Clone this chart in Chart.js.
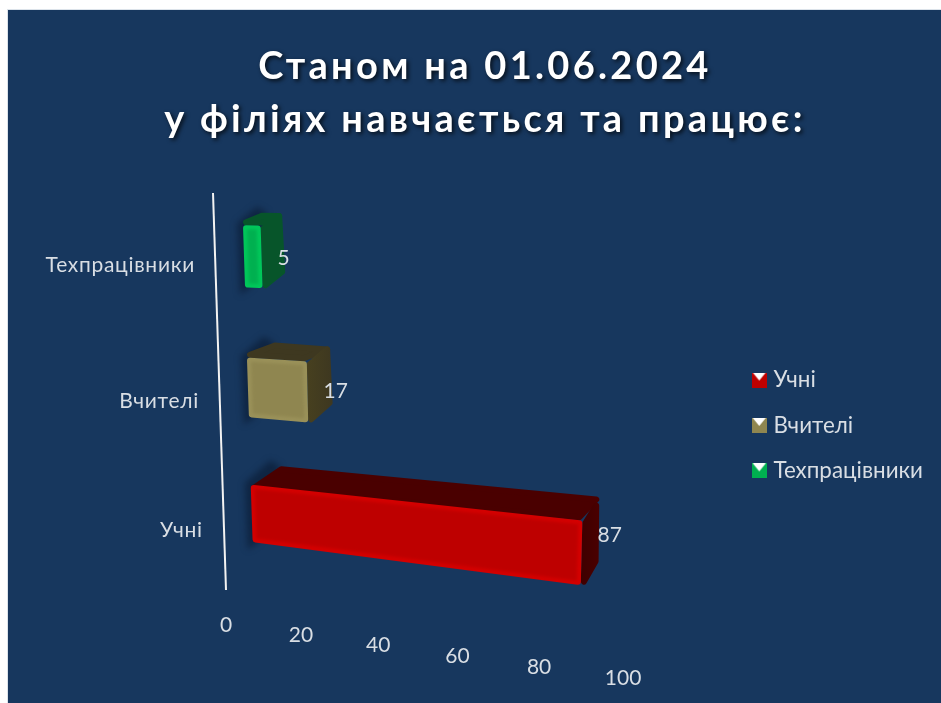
<!DOCTYPE html>
<html lang="uk">
<head>
<meta charset="utf-8">
<title>Станом на 01.06.2024</title>
<script src="https://cdn.jsdelivr.net/npm/chart.js@4"></script>
<style>
  html, body { margin: 0; padding: 0; background: #fff; }
  canvas { display: block; }
</style>
</head>
<body>
<canvas id="chart" width="941" height="703"></canvas>
<script>
// --- Data ---
const titleLines = ['Станом на 01.06.2024', 'у філіях навчається та працює:']
const categories = ['Учні', 'Вчителі', 'Техпрацівники']
const values = [87, 17, 5]
const valueTicks = [0, 20, 40, 60, 80, 100]

const fontFamily = 'Lato, "Noto Sans", sans-serif'
const textColor = '#D9DEE4'

// front, top, side, highlight
const palettes = [
  { front: '#BE0000', top: '#4A0000', side: '#3F0000', edge: '#D40000' },
  { front: '#8F8650', top: '#3E3820', side: '#47401F', edge: '#9A9159' },
  { front: '#00B050', top: '#07552A', side: '#07552A', edge: '#00C85A' }
]

// --- Perspective: unit square -> screen quad ---
function quadMap(tl, tr, br, bl) {
  const dx1 = tr[0] - br[0], dx2 = bl[0] - br[0], sx = tl[0] - tr[0] + br[0] - bl[0]
  const dy1 = tr[1] - br[1], dy2 = bl[1] - br[1], sy = tl[1] - tr[1] + br[1] - bl[1]
  const d = dx1 * dy2 - dx2 * dy1
  const g = (sx * dy2 - dx2 * sy) / d
  const h = (dx1 * sy - sx * dy1) / d
  const a = tr[0] - tl[0] + g * tr[0], b = bl[0] - tl[0] + h * bl[0]
  const e = tr[1] - tl[1] + g * tr[1], f = bl[1] - tl[1] + h * bl[1]
  return (u, v) => {
    const w = g * u + h * v + 1
    return [(a * u + b * v + tl[0]) / w, (e * u + f * v + tl[1]) / w]
  }
}

const frontPlane = quadMap([242, 189], [650, 186], [636, 629], [253.5, 575])
const backPlane = quadMap([263, 177], [661, 178], [652, 607], [283, 553])

function tickPoint(u) {
  const dx = 370 * u / (1 - 0.0683 * u)
  return [226 + dx, 625 + dx * 0.134]
}

function polygon(ctx, pts) {
  ctx.beginPath()
  pts.forEach((p, i) => i ? ctx.lineTo(p[0], p[1]) : ctx.moveTo(p[0], p[1]))
  ctx.closePath()
}

function softFace(ctx, pts, fill) {
  polygon(ctx, pts)
  ctx.fillStyle = fill
  ctx.strokeStyle = fill
  ctx.lineJoin = 'round'
  ctx.lineWidth = 6
  ctx.fill()
  ctx.stroke()
}

function inset(pts, n) {
  const cx = pts.reduce((s, p) => s + p[0], 0) / pts.length
  const cy = pts.reduce((s, p) => s + p[1], 0) / pts.length
  return pts.map(p => [p[0] + Math.sign(cx - p[0]) * n, p[1] + Math.sign(cy - p[1]) * n])
}

function drawBar(ctx, corners, colors) {
  const { fl, fr, fR, fL, bl, br, bR } = corners

  // smear on the wall behind the bar
  ctx.save()
  ctx.filter = 'blur(3px)'
  ctx.fillStyle = 'rgba(12, 32, 60, 0.8)'
  polygon(ctx, [[fl[0] - 6, fl[1] - 2], [bl[0] - 8, bl[1] - 6], [bl[0] + 2, bl[1]], [fL[0] + 6, fL[1]], [fL[0] - 5, fL[1] + 7]])
  ctx.fill()
  ctx.restore()

  softFace(ctx, inset([fl, fr, br, bl], 3), colors.top)
  const sideFill = ctx.createLinearGradient(fr[0], 0, br[0], 0)
  sideFill.addColorStop(0, colors.side)
  sideFill.addColorStop(1, colors.top)
  softFace(ctx, inset([fr, br, bR, fR], 3), sideFill)

  // rounded front in the bevel colour, the flat face sits inside it
  softFace(ctx, inset([fl, fr, fR, fL], 3), colors.edge)
  ctx.save()
  ctx.filter = 'blur(1.5px)'
  polygon(ctx, inset([fl, fr, fR, fL], 4))
  ctx.fillStyle = colors.front
  ctx.fill()
  ctx.restore()
}

// Legend swatch: coloured square with the white notch on top
function legendMark(color) {
  const c = document.createElement('canvas')
  c.width = 15
  c.height = 15
  const g = c.getContext('2d')
  g.fillStyle = color
  g.fillRect(0, 0, 15, 15)
  g.fillStyle = '#fff'
  g.beginPath()
  g.moveTo(1, 0)
  g.lineTo(14, 0)
  g.lineTo(7.5, 8)
  g.closePath()
  g.fill()
  return c
}

// --- Plugin: 3D bars, axis line and projected labels ---
const perspective = {
  id: 'perspective',
  beforeDraw(chart) {
    const ctx = chart.ctx
    ctx.save()
    ctx.fillStyle = '#fff'
    ctx.fillRect(0, 0, chart.width, chart.height)
    ctx.fillStyle = '#DCE3EA'
    ctx.fillRect(7, 9, chart.width - 7, chart.height - 9)
    ctx.fillStyle = '#17375E'
    ctx.fillRect(8, 10, chart.width - 8, chart.height - 10)
    ctx.restore()

    // title needs tracking and a shadow, the library has no option for these
    const block = chart.titleBlock
    if (block && !block._wrapped) {
      const draw = block.draw
      block._wrapped = true
      block.draw = function () {
        ctx.save()
        ctx.letterSpacing = '3.3px'
        ctx.shadowColor = 'rgba(0, 0, 0, 0.75)'
        ctx.shadowBlur = 4
        ctx.shadowOffsetX = 2
        ctx.shadowOffsetY = 2
        draw.call(block)
        ctx.restore()
      }
    }
  },
  beforeDatasetDraw() {
    return false
  },
  afterDatasetsDraw(chart) {
    const ctx = chart.ctx
    const area = chart.chartArea
    const bars = chart.getDatasetMeta(0).data
    const uOf = x => (x - area.left) / area.width
    const vOf = y => (y - area.top) / area.height

    ctx.save()
    ctx.strokeStyle = '#F2F2F2'
    ctx.lineWidth = 2
    ctx.beginPath()
    ctx.moveTo(213, 193)
    ctx.lineTo(226, 590)
    ctx.stroke()

    // far bars first
    for (let i = bars.length - 1; i >= 0; i--) {
      const bar = bars[i].getProps(['x', 'y', 'base', 'height'], true)
      const u0 = uOf(bar.base), u1 = uOf(bar.x)
      const v0 = vOf(bar.y - bar.height / 2), v1 = vOf(bar.y + bar.height / 2)
      drawBar(ctx, {
        fl: frontPlane(u0, v0), fr: frontPlane(u1, v0), fR: frontPlane(u1, v1), fL: frontPlane(u0, v1),
        bl: backPlane(u0, v0), br: backPlane(u1, v0), bR: backPlane(u1, v1)
      }, palettes[i])
    }

    ctx.font = '21px ' + fontFamily
    ctx.fillStyle = textColor
    ctx.textBaseline = 'middle'

    bars.forEach((el, i) => {
      const bar = el.getProps(['x', 'y', 'base', 'height'], true)
      const left = frontPlane(uOf(bar.base), vOf(bar.y))
      const right = frontPlane(uOf(bar.x), vOf(bar.y))

      // value next to the bar end
      ctx.textAlign = 'left'
      ctx.letterSpacing = '0px'
      ctx.fillText(values[i], right[0] + 16, left[1] + (right[0] - left[0]) * 0.066)

      // category label along the slanted axis
      ctx.textAlign = 'right'
      ctx.letterSpacing = '0.7px'
      const label = chart.scales.y.getLabelForValue(i)
      ctx.fillText(label, left[0] - 49, left[1] + 9 + (left[1] - 255) * 0.03)
    })
    ctx.letterSpacing = '0px'

    // value axis labels run down the floor edge
    const xScale = chart.scales.x
    ctx.textAlign = 'center'
    xScale.ticks.forEach(t => {
      const p = tickPoint(uOf(xScale.getPixelForValue(t.value)))
      ctx.fillText(t.label, p[0], p[1])
    })
    ctx.restore()
  }
}

new Chart(document.getElementById('chart'), {
  type: 'bar',
  data: {
    labels: categories,
    datasets: [{
      data: values,
      backgroundColor: palettes.map(p => p.front),
      categoryPercentage: 1,
      barPercentage: 0.465
    }]
  },
  options: {
    indexAxis: 'y',
    responsive: false,
    animation: false,
    layout: { padding: { left: 37, right: 8, bottom: 3, top: 41 } },
    scales: {
      x: {
        min: 0,
        max: 100,
        afterBuildTicks(axis) { axis.ticks = valueTicks.map(value => ({ value, label: String(value) })) },
        ticks: { display: false },
        grid: { display: false },
        border: { display: false }
      },
      y: {
        reverse: true,
        ticks: { display: false },
        grid: { display: false },
        border: { display: false }
      }
    },
    plugins: {
      title: {
        display: true,
        text: titleLines,
        color: '#FFFFFF',
        font: { family: fontFamily, size: 38, weight: 'bold', lineHeight: 1.38 },
        padding: { top: 0, bottom: 13 }
      },
      legend: {
        position: 'right',
        fullSize: false,
        labels: {
          usePointStyle: true,
          boxWidth: 6,
          boxHeight: 15,
          padding: 23,
          color: textColor,
          font: { family: fontFamily, size: 22.4 },
          generateLabels: () => categories.map((text, i) => ({
            text,
            pointStyle: legendMark(palettes[i].front),
            fontColor: textColor,
            fillStyle: palettes[i].front,
            strokeStyle: palettes[i].front,
            lineWidth: 0,
            index: i
          }))
        }
      },
      tooltip: { enabled: false }
    }
  },
  plugins: [perspective]
})
</script>
</body>
</html>
